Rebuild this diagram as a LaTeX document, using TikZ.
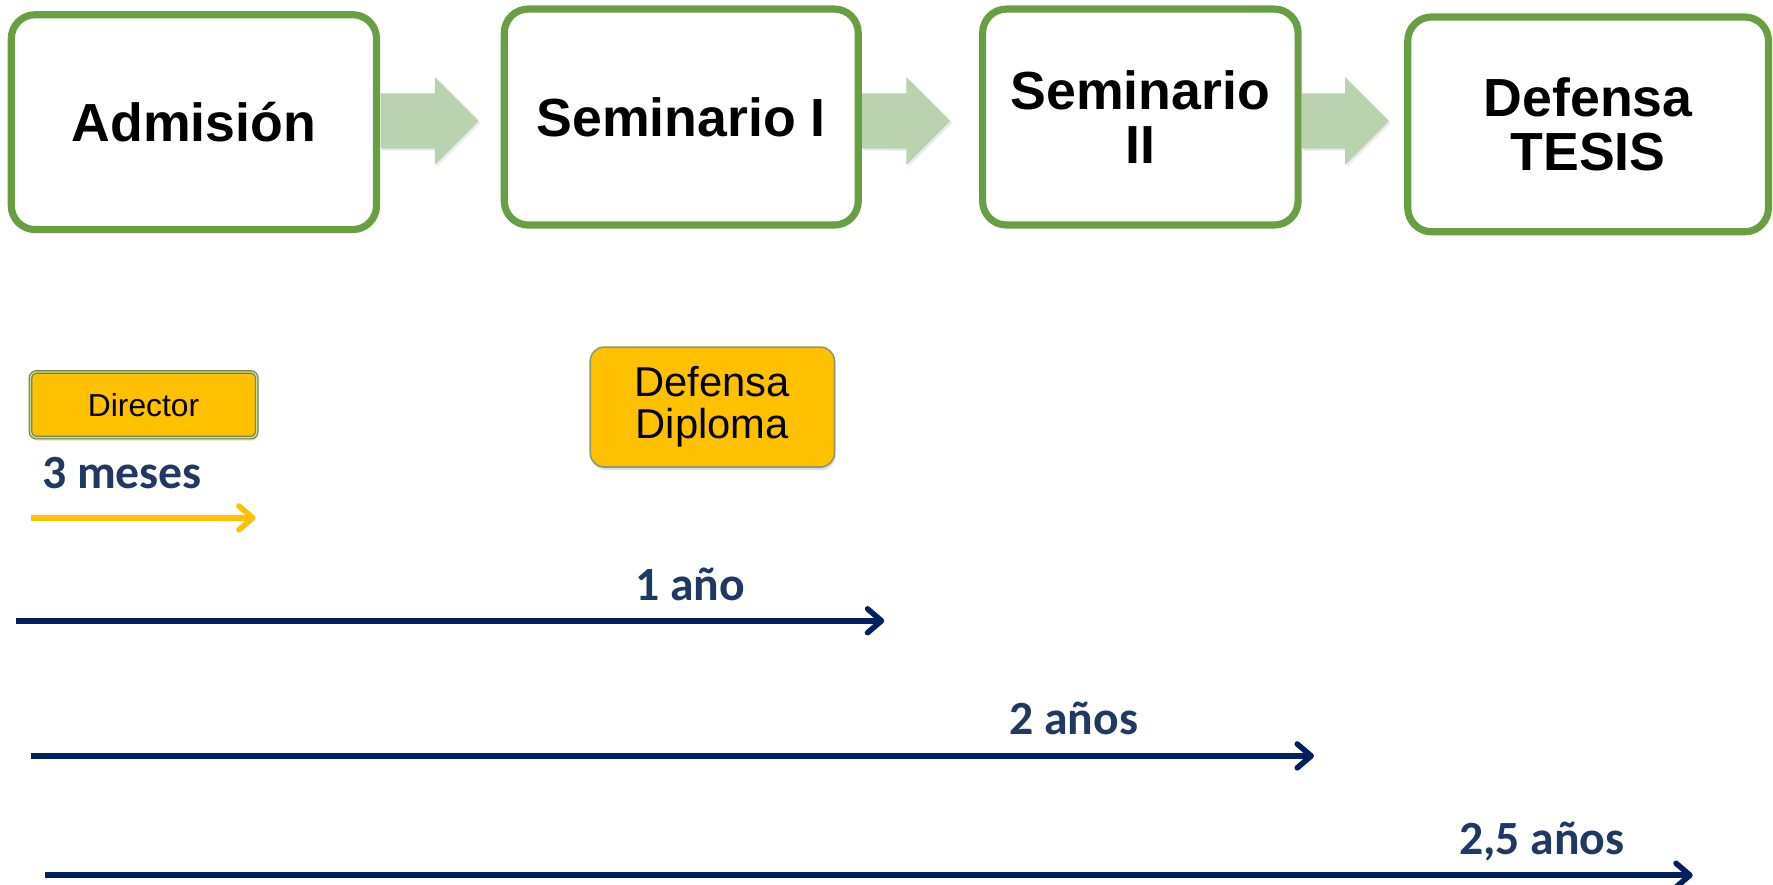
\documentclass[tikz,border=0pt]{standalone}
\usepackage{fontspec}
\setmainfont{Liberation Sans}
\newfontfamily\calibri{Carlito}
\usetikzlibrary{arrows.meta,shapes.arrows,shadows}

\definecolor{boxgreen}{RGB}{104,159,64}
\definecolor{arrowgreen}{RGB}{185,211,175}
\definecolor{gold}{RGB}{255,192,0}
\definecolor{navy}{RGB}{0,32,96}
\definecolor{labelblue}{RGB}{32,56,100}
\definecolor{dirolive}{RGB}{112,128,70}
\definecolor{dirlight}{RGB}{200,222,150}

\tikzset{
	stage/.style={draw=boxgreen, line width=3.6pt, rounded corners=12pt, fill=white,
		font=\bfseries\fontsize{27}{27.5}\selectfont, align=center,
		drop shadow={opacity=0.2, shadow xshift=0.8pt, shadow yshift=-1.6pt}},
	blockarrow/.style={single arrow, fill=arrowgreen, draw=none,
		single arrow head extend=0.29cm, inner xsep=0pt, inner ysep=0.48cm, anchor=tail,
		drop shadow={opacity=0.15, shadow xshift=0.8pt, shadow yshift=-1.2pt}},
	milestone/.style={fill=gold, align=center, inner sep=0pt,
		drop shadow={opacity=0.25, shadow xshift=0.6pt, shadow yshift=-1.5pt}},
	span/.style={line width=2.8pt, -{Straight Barb[length=7pt,width=12pt,round]}},
	spanlabel/.style={font=\calibri\bfseries\fontsize{24}{24}\selectfont, text=labelblue, anchor=base}
}

\begin{document}
\begin{tikzpicture}
	\useasboundingbox (0,0) rectangle (31.36,-15.64);
	
	% etapas
	\node[stage, minimum width=6.46cm, minimum height=3.80cm] (adm) at (3.43,-2.16) {Admisión};
	\node[stage, minimum width=6.26cm, minimum height=3.82cm] (semA) at (12.05,-2.07) {Seminario I};
	\node[stage, minimum width=5.58cm, minimum height=3.82cm] (semB) at (20.17,-2.07) {Seminario\\II};
	\node[stage, minimum width=6.38cm, minimum height=3.80cm] (tesis) at (28.09,-2.20) {Defensa\\TESIS};
	
	\node[blockarrow, minimum height=1.74cm] (arA) at (adm.east |- 0,-2.14) {};
	\node[blockarrow, minimum height=1.56cm] (arB) at (semA.east |- 0,-2.14) {};
	\node[blockarrow, minimum height=1.54cm] (arC) at (semB.east |- 0,-2.14) {};
	
	% hitos
	\node[milestone, draw=dirolive, double=dirlight, double distance=0.7pt, line width=0.6pt,
		rounded corners=3pt, minimum width=4.0cm, minimum height=1.16cm,
		font=\fontsize{16}{16}\selectfont] (dir) at (2.54,-7.16) {Director};
	\node[milestone, draw=dirolive!80, line width=0.8pt, rounded corners=7pt,
		minimum width=4.32cm, minimum height=2.12cm,
		font=\fontsize{21}{21}\selectfont] (dipl) at (12.60,-7.20) {Defensa\\Diploma};
	
	% plazos
	\coordinate (mesA) at (0.54,-9.16);
	\coordinate (mesB) at (4.52,-9.16);
	\draw[span, gold, line width=2.75pt] (mesA) -- (mesB);
	\node[spanlabel, anchor=base west] (mes) at (0.62,-8.64) {3 meses};
	
	\coordinate (unoA) at (0.28,-10.98);
	\coordinate (unoB) at (15.64,-10.98);
	\draw[span, navy] (unoA) -- (unoB);
	\node[spanlabel] (uno) at (12.21,-10.62) {1 año};
	
	\coordinate (dosA) at (0.55,-13.37);
	\coordinate (dosB) at (23.24,-13.37);
	\draw[span, navy] (dosA) -- (dosB);
	\node[spanlabel] (dos) at (18.99,-13.00) {2 años};
	
	\coordinate (tresA) at (0.80,-15.48);
	\coordinate (tresB) at (29.94,-15.48);
	\draw[span, navy] (tresA) -- (tresB);
	\node[spanlabel] (tres) at (27.27,-15.12) {2,5 años};
	
\end{tikzpicture}
\end{document}
